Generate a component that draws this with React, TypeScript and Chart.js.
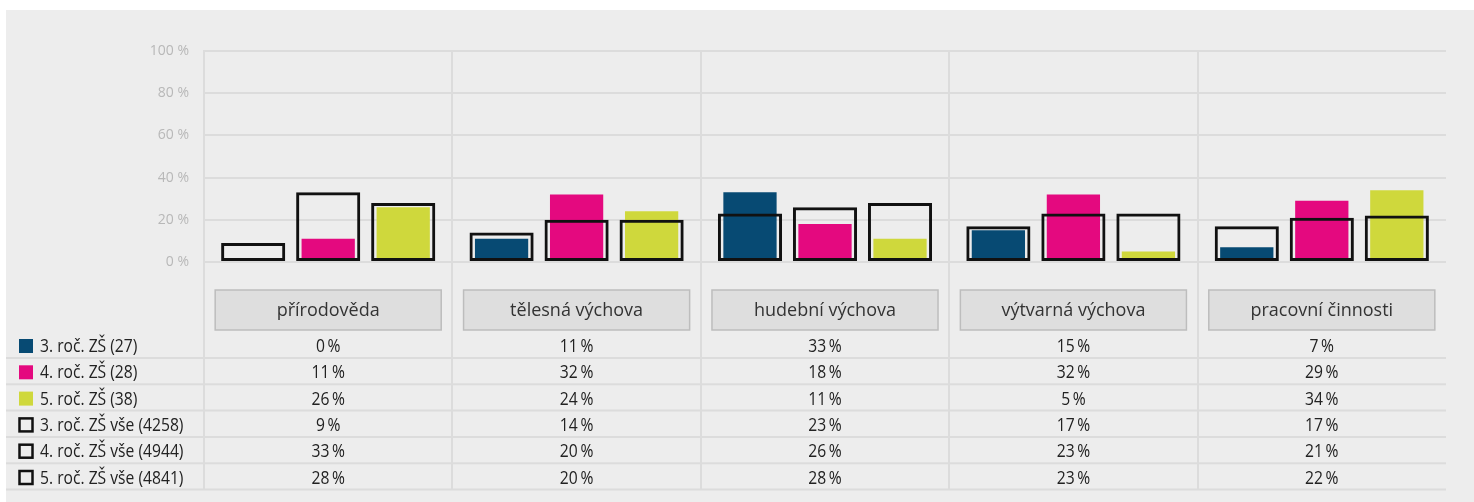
import React, { useEffect, useRef } from "react";
import { Chart, registerables } from "chart.js";

Chart.register(...registerables);

const categories = ["přírodověda", "tělesná výchova", "hudební výchova", "výtvarná výchova", "pracovní činnosti"];
const seriesLabels = [
  "3. roč. ZŠ (27)",
  "4. roč. ZŠ (28)",
  "5. roč. ZŠ (38)",
  "3. roč. ZŠ vše (4258)",
  "4. roč. ZŠ vše (4944)",
  "5. roč. ZŠ vše (4841)",
];
const s3 = [0, 11, 33, 15, 7];
const s4 = [11, 32, 18, 32, 29];
const s5 = [26, 24, 11, 5, 34];
const s3all = [9, 14, 23, 17, 17];
const s4all = [33, 20, 26, 23, 21];
const s5all = [28, 20, 28, 23, 22];
const yTicks = [0, 20, 40, 60, 80, 100];

const BLUE = "#074a73";
const PINK = "#e4097f";
const LIME = "#cfd83c";
const OUTLINE = "#111111";
const FONT = "'Open Sans', 'Noto Sans', sans-serif";
const SQUEEZE = 0.87;

function squeezedText(ctx: any, text: string, x: number, y: number, align: string) {
  ctx.save();
  ctx.translate(x, y);
  ctx.scale(SQUEEZE, 1);
  ctx.textAlign = align;
  ctx.fillText(text, 0, 0);
  ctx.restore();
}

const tablePlugin = {
  id: "tablePlugin",
  afterDraw(chart: any) {
    const ctx = chart.ctx;
    const x = chart.scales.x;
    const area = chart.chartArea;
    const n = categories.length;
    const w = (area.right - area.left) / n;
    const rowH = 26.3;
    const firstLine = 348;
    const tableBottom = firstLine + rowH * 5;
    ctx.save();
    ctx.strokeStyle = "#dcdcdc";
    ctx.lineWidth = 2;
    for (let k = 0; k < n; k++) {
      const px = Math.round(area.left + k * w);
      ctx.beginPath();
      ctx.moveTo(px, area.bottom);
      ctx.lineTo(px, tableBottom);
      ctx.stroke();
    }
    for (let r = 0; r < 6; r++) {
      const py = firstLine + r * rowH;
      ctx.beginPath();
      ctx.moveTo(0, py);
      ctx.lineTo(area.right, py);
      ctx.stroke();
    }
    ctx.textAlign = "center";
    ctx.textBaseline = "middle";
    categories.forEach((c: string, i: number) => {
      const cx = x.getPixelForValue(i);
      const bw = w * 0.91;
      ctx.fillStyle = "#dedede";
      ctx.fillRect(cx - bw / 2, 280, bw, 40);
      ctx.strokeStyle = "#bdbdbd";
      ctx.lineWidth = 1.5;
      ctx.strokeRect(cx - bw / 2, 280, bw, 40);
      ctx.fillStyle = "#333333";
      ctx.font = `18px ${FONT}`;
      ctx.textAlign = "center";
      ctx.fillText(c, cx, 301);
    });
    const all = [s3, s4, s5, s3all, s4all, s5all];
    const colors = [BLUE, PINK, LIME, null, null, null];
    all.forEach((arr: number[], r: number) => {
      const cy = firstLine - 12 + r * rowH;
      const col = colors[r];
      if (col) {
        ctx.fillStyle = col;
        ctx.fillRect(13, cy - 7, 14, 14);
      } else {
        ctx.strokeStyle = OUTLINE;
        ctx.lineWidth = 2.5;
        ctx.strokeRect(13.5, cy - 6.5, 13, 13);
      }
      ctx.fillStyle = "#222222";
      ctx.font = `18px ${FONT}`;
      squeezedText(ctx, seriesLabels[r], 34, cy + 1, "left");
      arr.forEach((v: number, i: number) => {
        squeezedText(ctx, `${v}\u2009%`, x.getPixelForValue(i), cy + 1, "center");
      });
    });
    ctx.restore();
  },
};

export default function App() {
  const ref = useRef<HTMLCanvasElement | null>(null);
  useEffect(() => {
    const filled = (label: string, data: number[], color: string, stack: string) => ({
      label,
      data,
      backgroundColor: color,
      borderWidth: 0,
      stack,
      order: 1,
      barPercentage: 0.71,
      categoryPercentage: 0.906,
    });
    const outline = (label: string, data: number[], stack: string) => ({
      label,
      data,
      backgroundColor: "rgba(0,0,0,0)",
      borderColor: OUTLINE,
      borderWidth: 3,
      borderSkipped: false,
      stack,
      order: 0,
      barPercentage: 0.855,
      categoryPercentage: 0.906,
    });
    const chart = new Chart(ref.current as HTMLCanvasElement, {
      type: "bar",
      data: {
        labels: categories,
        datasets: [
          filled(seriesLabels[0], s3, BLUE, "a"),
          filled(seriesLabels[1], s4, PINK, "b"),
          filled(seriesLabels[2], s5, LIME, "c"),
          outline(seriesLabels[3], s3all, "a"),
          outline(seriesLabels[4], s4all, "b"),
          outline(seriesLabels[5], s5all, "c"),
        ] as any,
      },
      options: {
        animation: false,
        responsive: false,
        devicePixelRatio: 1,
        layout: { padding: { left: 0, top: 41, right: 28, bottom: 240 } },
        plugins: { legend: { display: false }, tooltip: { enabled: false } },
        scales: {
          x: {
            stacked: true,
            ticks: { display: false },
            grid: {
              drawTicks: false,
              lineWidth: 2,
              color: (c: any) => (c.type === "tick" && c.index > 0 ? "#dcdcdc" : "rgba(0,0,0,0)"),
            },
            border: { display: false },
            afterFit: (s: any) => {
              s.height = 0;
            },
          },
          y: {
            stacked: false,
            min: 0,
            max: 100,
            afterBuildTicks: (s: any) => {
              s.ticks = yTicks.map((v) => ({ value: v }));
            },
            ticks: {
              padding: 15,
              color: "#b8b8b8",
              font: { family: FONT, size: 14 },
              callback: (v: any) => `${v} %`,
            },
            grid: { drawTicks: false, lineWidth: 2, color: "#dcdcdc" },
            border: { display: true, color: "#dcdcdc", width: 2 },
            afterFit: (s: any) => {
              s.width = 198;
            },
          },
        },
      },
      plugins: [tablePlugin],
    });
    return () => chart.destroy();
  }, []);
  return (
    <div style={{ position: "absolute", left: 6, top: 10, width: 1468, height: 492, background: "#ededed" }}>
      <canvas ref={ref} width={1468} height={492} style={{ display: "block" }} />
    </div>
  );
}
